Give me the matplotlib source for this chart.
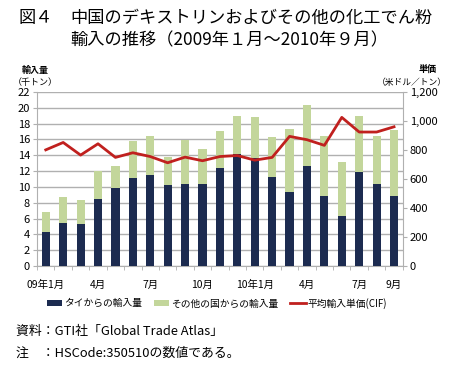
import matplotlib
matplotlib.use("Agg")
import matplotlib.pyplot as plt
import numpy as np
from matplotlib.ticker import FuncFormatter, FixedLocator

plt.rcParams['font.family'] = ['Noto Sans CJK JP', 'DejaVu Sans']

months = list(range(21))
tick_pos = [0, 3, 6, 9, 12, 15, 18, 20]
tick_labels = ['09年1月', '4月', '7月', '10月', '10年1月', '4月', '7月', '9月']
thai = [4.3, 5.5, 5.3, 8.5, 9.8, 11.1, 11.5, 10.2, 10.4, 10.4, 12.4,
        14.2, 13.6, 11.2, 9.3, 12.7, 8.8, 6.3, 11.9, 10.4, 8.8]
total = [6.8, 8.7, 8.3, 12.0, 12.7, 15.8, 16.4, 13.8, 15.9, 14.8, 17.1,
         19.0, 18.8, 16.3, 17.3, 20.4, 16.4, 13.1, 19.0, 16.5, 17.2]
other = [t - h for t, h in zip(total, thai)]
price = [801, 852, 765, 843, 749, 781, 755, 712, 751, 726, 755,
         762, 730, 749, 894, 871, 832, 1025, 924, 924, 960]

navy = '#1C2B50'
green = '#C3D69B'
red = '#C0201E'
grid = '#B0B0B0'

fig = plt.figure(figsize=(4.52, 3.71), dpi=100)
ax = fig.add_axes([0.082, 0.283, 0.809, 0.469])
x = np.arange(len(months))
b1 = ax.bar(x, thai, width=0.47, color=navy, zorder=3)
b2 = ax.bar(x, other, width=0.47, bottom=thai, color=green, zorder=3)
ax.set_xlim(-0.5, 20.5)
ax.set_ylim(0, 22)
ax.set_yticks(range(0, 23, 2))
ax.yaxis.grid(True, color=grid, lw=1.0, zorder=0)
ax.set_xticks(tick_pos)
ax.set_xticklabels(tick_labels, fontsize=7.5)
ax.tick_params(axis='x', length=0, pad=10)
ax.xaxis.set_minor_locator(FixedLocator(np.arange(-0.5, 21, 1)))
ax.tick_params(axis='x', which='minor', length=3, color=grid)
ax.tick_params(axis='y', labelsize=8, length=3, color=grid, pad=2)
for s in ['top', 'right']:
    ax.spines[s].set_visible(False)
for s in ['left', 'bottom']:
    ax.spines[s].set_color(grid)

ax2 = ax.twinx()
l1, = ax2.plot(x, price, color=red, lw=2, zorder=5)
ax2.set_ylim(0, 1200)
ax2.set_yticks(range(0, 1201, 200))
ax2.yaxis.set_major_formatter(FuncFormatter(lambda v, p: f'{int(v):,}'))
ax2.tick_params(axis='y', labelsize=8, length=3, color=grid, pad=2)
for s in ['top', 'left', 'bottom']:
    ax2.spines[s].set_visible(False)
ax2.spines['right'].set_color(grid)

fig.text(0.04, 0.952, '図４', fontsize=12.4, va='center', ha='left')
fig.text(0.155, 0.952, '中国のデキストリンおよびその他の化工でん粉', fontsize=12.4, va='center', ha='left')
fig.text(0.155, 0.892, '輸入の推移（2009年１月～2010年９月）', fontsize=12.4, va='center', ha='left')

fig.text(0.077, 0.81, '輸入量', fontsize=6.5, fontweight='bold', ha='center', va='center')
fig.text(0.077, 0.778, '（千トン）', fontsize=6.5, ha='center', va='center')
fig.text(0.945, 0.81, '単価', fontsize=6.5, fontweight='bold', ha='center', va='center')
fig.text(0.912, 0.778, '（米ドル／トン）', fontsize=6.3, ha='center', va='center')

fig.legend([b1, b2, l1], ['タイからの輸入量', 'その他の国からの輸入量', '平均輸入単価(CIF)'],
           loc='center', bbox_to_anchor=(0.48, 0.183), ncol=3, frameon=False,
           fontsize=7, handlelength=1.6, handleheight=0.6, columnspacing=1.2, handletextpad=0.2)

fig.text(0.035, 0.108, '資料：GTI社「Global Trade Atlas」', fontsize=9.3, va='center', ha='left')
fig.text(0.035, 0.048, '注　：HSCode:350510の数値である。', fontsize=9.3, va='center', ha='left')

fig.savefig('out.png', dpi=100)
